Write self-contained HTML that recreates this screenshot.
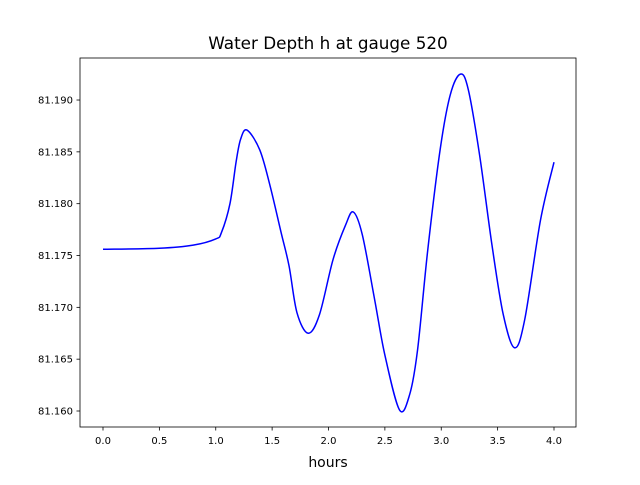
<!DOCTYPE html>
<html><head><meta charset="utf-8"><style>
body{margin:0;background:#fff;font-family:"Liberation Sans","DejaVu Sans",sans-serif}
svg text{font-family:"DejaVu Sans","Liberation Sans",sans-serif;font-size:10px;fill:#000}
</style></head><body>
<svg id="chart" width="640" height="480" viewBox="0 0 640 480" xmlns="http://www.w3.org/2000/svg">
<rect width="640" height="480" fill="#fff"/>
<text x="328" y="49" text-anchor="middle" style="font-size:16.8px">Water Depth h at gauge 520</text>
<g id="ticks"></g>
<path id="line" fill="none" stroke="#0000ff" stroke-width="1.5"/>
<rect x="80" y="58" width="496" height="369" fill="none" stroke="#000" stroke-width="0.8"/>
<text x="328" y="467" text-anchor="middle" style="font-size:14px">hours</text>
</svg>
<script>
const times=[0,0.5,0.8,1.0,1.05,1.126,1.18,1.22,1.277,1.39,1.48,1.58,1.65,1.72,1.82,1.92,2.04,2.15,2.22,2.30,2.41,2.50,2.63,2.72,2.79,2.88,2.99,3.08,3.17,3.24,3.34,3.45,3.55,3.65,3.74,3.88,4.0];
const depths=[81.1756,81.1757,81.1760,81.1766,81.1772,81.1800,81.1840,81.1862,81.1871,81.1852,81.1818,81.1772,81.1740,81.1695,81.1675,81.1693,81.1746,81.1779,81.1792,81.1770,81.1707,81.1654,81.1601,81.1616,81.1659,81.1755,81.1852,81.1905,81.1925,81.1910,81.1847,81.1760,81.1693,81.1661,81.1688,81.1784,81.1840];
const xTicks=[0,0.5,1.0,1.5,2.0,2.5,3.0,3.5,4.0];
const yTicks=[81.160,81.165,81.170,81.175,81.180,81.185,81.190];
const NS='http://www.w3.org/2000/svg';
function X(t){return 103+t*112.75;}
function Y(v){return 411-(v-81.160)/0.005*51.83;}
const g=document.getElementById('ticks');
xTicks.forEach(t=>{
 const l=document.createElementNS(NS,'line');
 
 
 l.setAttribute('x1',X(t));l.setAttribute('x2',X(t));l.setAttribute('y1',427);l.setAttribute('y2',430.5);l.setAttribute('stroke','#000');l.setAttribute('stroke-width','0.8');g.appendChild(l);
 const tx=document.createElementNS(NS,'text');
 
 
 tx.setAttribute('x',X(t));tx.setAttribute('y',444);tx.setAttribute('text-anchor','middle');tx.textContent=t.toFixed(1);g.appendChild(tx);
});
yTicks.forEach(v=>{
 const l=document.createElementNS(NS,'line');
 
 
 l.setAttribute('x1',76.5);l.setAttribute('x2',80);l.setAttribute('y1',Y(v));l.setAttribute('y2',Y(v));l.setAttribute('stroke','#000');l.setAttribute('stroke-width','0.8');g.appendChild(l);
 const tx=document.createElementNS(NS,'text');
 
 
 tx.setAttribute('x',73);tx.setAttribute('y',Y(v)+3.5);tx.setAttribute('text-anchor','end');tx.textContent=v.toFixed(3);g.appendChild(tx);
});
const pts=times.map((t,i)=>[X(t),Y(depths[i])]);
let d='M'+pts[0][0]+','+pts[0][1];
for(let i=0;i<pts.length-1;i++){
 const p0=pts[Math.max(0,i-1)],p1=pts[i],p2=pts[i+1],p3=pts[Math.min(pts.length-1,i+2)];
 const c1=[p1[0]+(p2[0]-p0[0])/6,p1[1]+(p2[1]-p0[1])/6];
 const c2=[p2[0]-(p3[0]-p1[0])/6,p2[1]-(p3[1]-p1[1])/6];
 d+=' C'+c1[0]+','+c1[1]+' '+c2[0]+','+c2[1]+' '+p2[0]+','+p2[1];
}
document.getElementById('line').setAttribute('d',d);
</script>
</body></html>
